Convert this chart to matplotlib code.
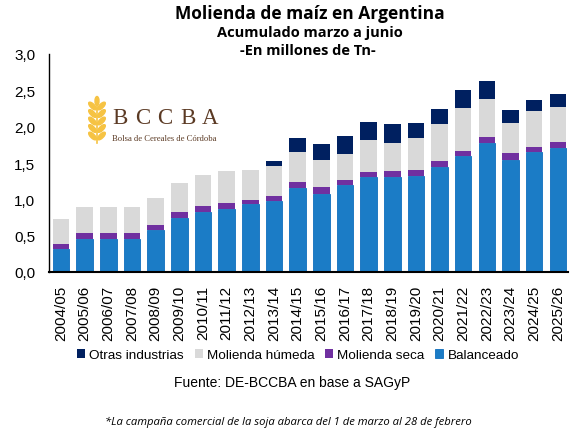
import numpy as np
import matplotlib.pyplot as plt
from matplotlib.patches import Ellipse

# Datos (millones de Tn), acumulado marzo a junio
campanias = ["2004/05", "2005/06", "2006/07", "2007/08", "2008/09", "2009/10",
             "2010/11", "2011/12", "2012/13", "2013/14", "2014/15", "2015/16",
             "2016/17", "2017/18", "2018/19", "2019/20", "2020/21", "2021/22",
             "2022/23", "2023/24", "2024/25", "2025/26"]
balanceado = [0.32, 0.46, 0.46, 0.46, 0.58, 0.75, 0.82, 0.87, 0.93, 0.98, 1.16,
              1.08, 1.20, 1.31, 1.31, 1.32, 1.45, 1.59, 1.78, 1.54, 1.65, 1.71]
molienda_seca = [0.07, 0.07, 0.07, 0.08, 0.06, 0.07, 0.09, 0.08, 0.06, 0.07, 0.08,
                 0.09, 0.07, 0.07, 0.08, 0.09, 0.08, 0.08, 0.08, 0.10, 0.07, 0.08]
molienda_humeda = [0.34, 0.37, 0.37, 0.36, 0.38, 0.41, 0.43, 0.44, 0.42, 0.41, 0.41,
                   0.37, 0.36, 0.43, 0.39, 0.44, 0.50, 0.59, 0.52, 0.41, 0.50, 0.48]
otras_industrias = [0, 0, 0, 0, 0, 0, 0, 0, 0, 0.07, 0.20,
                    0.22, 0.24, 0.26, 0.26, 0.20, 0.22, 0.25, 0.25, 0.18, 0.15, 0.18]

W, H = 580, 431
fig = plt.figure(figsize=(W / 100, H / 100), dpi=100)
ax = fig.add_axes([49 / W, 1 - 273 / H, (568 - 49) / W, (273 - 55) / H])

x = np.arange(len(campanias))
b1 = np.array(balanceado)
b2 = b1 + np.array(molienda_seca)
b3 = b2 + np.array(molienda_humeda)
ancho = 0.7

h_bal = ax.bar(x, balanceado, ancho, color="#1B7CC6", edgecolor="#0F6FBE",
               linewidth=0.6, label="Balanceado")
h_sec = ax.bar(x, molienda_seca, ancho, bottom=b1, color="#7030A0", label="Molienda seca")
h_hum = ax.bar(x, molienda_humeda, ancho, bottom=b2, color="#D9D9D9", label="Molienda húmeda")
h_otr = ax.bar(x, otras_industrias, ancho, bottom=b3, color="#002060", label="Otras industrias")

ax.set_ylim(0, 3)
ax.set_xlim(-0.51, len(campanias) - 0.57)
yt = np.arange(0, 3.01, 0.5)
ax.set_yticks(yt, [f"{v:.1f}".replace(".", ",") for v in yt],
              fontsize=11, family="Liberation Sans")
ax.set_xticks(x, campanias, rotation=90, fontsize=11, family="Liberation Sans")
ax.tick_params(axis="y", length=0, pad=10)
ax.tick_params(axis="x", length=0, pad=9)
for s in ["top", "right"]:
    ax.spines[s].set_visible(False)
ax.spines["left"].set_linewidth(1.0)
ax.spines["bottom"].set_linewidth(1.5)

fig.legend(handles=[h_otr, h_hum, h_sec, h_bal], loc="center", ncol=4,
           bbox_to_anchor=(298 / W, 1 - 356 / H), frameon=False,
           prop={"family": "Liberation Sans", "size": 9.7},
           handlelength=0.6, handleheight=0.6, handletextpad=0.3,
           columnspacing=0.8, borderpad=0)

# titulos
fig.text(310 / W, 1 - 14 / H, "Molienda de maíz en Argentina", ha="center", va="center",
         fontsize=12.5, fontweight="bold", family="Open Sans")
fig.text(310 / W, 1 - 33 / H, "Acumulado marzo a junio", ha="center", va="center",
         fontsize=10.5, fontweight="bold", family="Open Sans")
fig.text(308 / W, 1 - 51 / H, "-En millones de Tn-", ha="center", va="center",
         fontsize=10.5, fontweight="bold", family="Open Sans")

fig.text(292 / W, 1 - 383 / H, "Fuente: DE-BCCBA en base a SAGyP", ha="center",
         va="center", fontsize=10, family="Liberation Sans")
fig.text(288 / W, 1 - 422 / H,
         "*La campaña comercial de la soja abarca del 1 de marzo al 28 de febrero",
         ha="center", va="center", fontsize=8.1, style="italic", family="Open Sans")

# logo BCCBA (en pixeles)
lg = fig.add_axes([0, 0, 1, 1], zorder=5)
lg.set_xlim(0, W)
lg.set_ylim(H, 0)
lg.axis("off")
oro = "#F6C343"
lg.plot([97, 97], [144, 104], color=oro, lw=1.2)
for i in range(5):
    yy = 137 - i * 7.5
    lg.add_patch(Ellipse((92.5, yy), 4.2, 10, angle=-45, color=oro))
    lg.add_patch(Ellipse((101.5, yy), 4.2, 10, angle=45, color=oro))
lg.add_patch(Ellipse((97, 102), 4, 9, angle=0, color=oro))
marron = "#5B3A24"
for i, letra in enumerate("BCCBA"):
    lg.text(120 + i * 22.5, 119, letra, ha="center", va="center", fontsize=16.5,
            family="Liberation Serif", color=marron)
lg.text(164, 139, "Bolsa de Cereales de Córdoba", ha="center", va="center",
        fontsize=6.2, family="Liberation Serif", color=marron)

fig.savefig("out.png", dpi=100)
